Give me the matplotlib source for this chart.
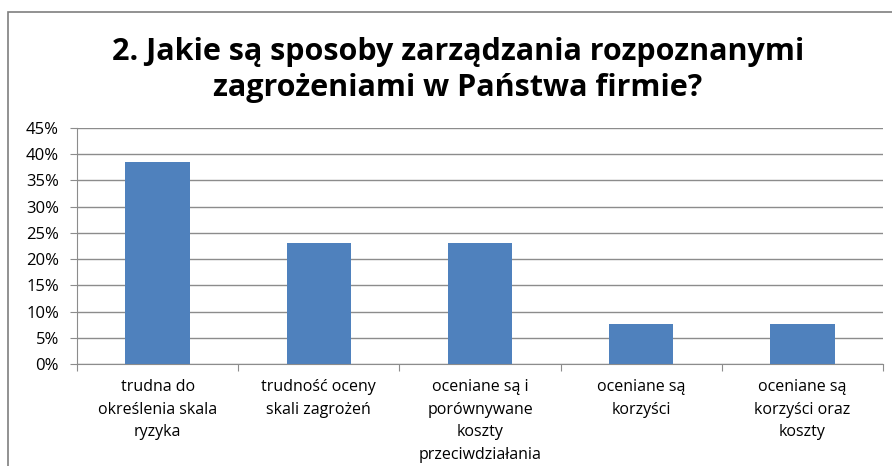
import matplotlib.pyplot as plt
from matplotlib.patches import Rectangle
from matplotlib.ticker import MultipleLocator, PercentFormatter

# -----------------------------------------------------------------------------
# Data
# -----------------------------------------------------------------------------
categories = [
    "trudna do\nokreślenia skala\nryzyka",
    "trudność oceny\nskali zagrożeń",
    "oceniane są i\nporównywane\nkoszty\nprzeciwdziałania",
    "oceniane są\nkorzyści",
    "oceniane są\nkorzyści oraz\nkoszty",
]
values = [38.5, 23.1, 23.1, 7.7, 7.7]

title = "2. Jakie są sposoby zarządzania rozpoznanymi\nzagrożeniami w Państwa firmie?"

plt.rcParams["font.family"] = ["Open Sans", "DejaVu Sans"]

# -----------------------------------------------------------------------------
# Figure
# -----------------------------------------------------------------------------
fig = plt.figure(figsize=(8.92, 4.66), dpi=100)
W, H = 892, 466
ax = fig.add_axes([77 / W, 1 - 364 / H, (883 - 77) / W, (364 - 128) / H])

x = range(len(categories))
ax.bar(x, values, width=0.4, color="#4F81BD", zorder=3)

ax.set_xlim(-0.5, len(categories) - 0.5)
ax.set_ylim(0, 45)
ax.yaxis.set_major_locator(MultipleLocator(5))
ax.yaxis.set_major_formatter(PercentFormatter(decimals=0))
ax.grid(axis="y", color="#8c8c8c", linewidth=1.0, zorder=0)

ax.set_xticks([i + 0.5 for i in range(-1, len(categories))], minor=False)
ax.set_xticklabels([])
ax.set_xticks(list(x), minor=True)
ax.set_xticklabels(categories, minor=True, fontsize=11.5, linespacing=1.55)
ax.tick_params(axis="x", which="minor", length=0, pad=11)
ax.tick_params(axis="x", which="major", length=5, color="#8c8c8c")
ax.tick_params(axis="y", length=5, color="#8c8c8c", labelsize=12, pad=8)

for side in ["top", "right"]:
    ax.spines[side].set_visible(False)
for side in ["left", "bottom"]:
    ax.spines[side].set_color("#8c8c8c")

fig.text(458 / W, 1 - 70 / H, title, ha="center", va="center",
         fontsize=22, fontweight="bold", linespacing=1.25)

# outer chart frame
fig.patches.append(Rectangle((8 / W, -0.01), 1.02, 1 - 12 / H + 0.01,
                             transform=fig.transFigure, fill=False,
                             edgecolor="#7f7f7f", linewidth=1.2))

fig.savefig("out.png", dpi=100)
